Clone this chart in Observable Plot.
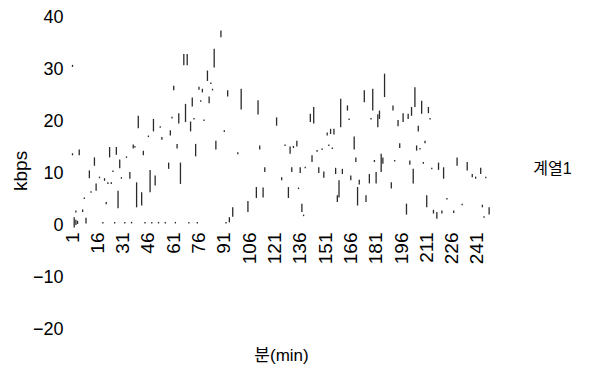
<!DOCTYPE html>
<html>
<head>
<meta charset="utf-8">
<script src="https://cdn.jsdelivr.net/npm/d3@7"></script>
<script src="https://cdn.jsdelivr.net/npm/@observablehq/plot@0.6"></script>
<style>
  html, body { margin: 0; padding: 0; background: #fff; }
  #chart { width: 590px; height: 374px; }
</style>
</head>
<body>
<div id="chart"></div>
<script>
// Minute index of each visible segment of 계열1
const minutes = [1,1,2,3,3,4,5,7,8,9,11,12,14,15,17,19,20,21,22,23,24,25,26,27,28,29,30,32,33,35,36,37,38,39,40,42,43,44,46,47,48,49,50,52,53,54,56,58,59,60,61,62,63,64,65,67,68,69,70,71,72,73,74,75,76,77,78,79,81,82,83,84,85,86,89,91,92,93,94,96,99,101,105,110,111,112,114,115,122,125,127,129,130,131,132,134,135,136,137,138,139,142,143,144,146,147,149,150,152,153,154,155,156,157,158,159,160,161,164,165,166,168,169,170,171,174,175,177,178,179,180,181,182,183,184,185,186,190,191,192,194,195,197,199,200,201,202,203,204,205,206,207,208,209,210,211,212,213,214,215,217,218,220,221,223,227,229,232,235,238,240,243,244,245,246,248];
// Lower and upper kbps of each segment
const lows = [30.4,13.4,-0.5,2.4,0,0.2,13.4,2.5,5,0.3,9,6.2,11.4,6.6,9,0.3,8.5,4,7.9,13,7.9,10.2,0.3,13.5,3.2,10.9,8.9,0.3,12.9,8.9,0.3,14.7,14.9,3.4,18.6,3.75,13.4,0.3,16.9,6.3,0.3,18,7.6,0.3,18.7,16.4,0.3,10.8,17.2,20.5,25.9,0.3,14.7,19.5,7.9,30.7,19.8,30.7,0.3,18,22.8,20.3,13.2,0.3,26,23.7,25.5,20,27.7,23.4,27.1,25.9,30.3,14.5,36.1,17.9,0.3,24.7,0.5,1.6,13.6,22.2,2.5,5.2,21.25,14.5,5.3,10.2,19.1,8.6,15.2,5.2,13.7,10.2,14.8,15.1,6.9,10,2.5,1.7,10.9,19.8,12.1,19.5,14.1,10,14.4,9.1,17.2,15.2,17.5,14.6,17.4,9.8,4.4,5.3,18.8,9.8,22,20.2,8.6,14.5,12.1,3.75,7.8,23.6,4.4,8,20.3,22,12.1,8,18.8,20.4,10.2,11.8,24.6,7,22,12.2,19,14.8,19.8,2,20.4,11.6,21,8,22.7,14.3,18,14.5,21.4,11.8,15.7,3.4,21.5,20.3,10.7,2.2,1.2,10.6,2.2,8.9,4.9,2.3,11.4,3.8,10.5,9.2,8.9,9.8,3.4,1.4,9,2];
const highs = [30.8,13.8,1.5,2.8,1,0.8,14.5,3,5.3,1.4,10.5,6.5,13,8,9.3,0.6,9,4.4,8.2,15,8.2,10.5,0.6,15,6.6,12.6,9.2,0.6,13.2,10.2,0.6,15.5,15.2,8.2,21,6.3,14.3,0.6,17.2,10.6,0.6,20.4,9.5,0.6,19,16.9,0.6,12,18.2,20.8,26.8,0.6,15.6,21.5,12,32.9,23.3,32.9,0.6,19.9,24.5,20.6,15.6,0.6,26.6,24,26.2,20.3,29.7,24.7,27.4,26.2,33.9,16.2,37.4,18.2,0.6,25.9,1.5,3.4,14,26.2,4.6,7.3,24,15.3,7.2,11.1,20.7,9.2,15.5,7.3,15.1,11.1,15.2,16.2,7.2,11.1,4.1,2,11.2,21.4,13.4,22.7,14.4,11.1,14.7,10.3,17.8,15.5,18.5,14.9,18.5,11,5.7,8.6,24.3,10.8,23,20.5,9.5,17,13,7.3,8.7,25.9,5.7,9.8,20.6,26.2,12.5,10.2,21.3,22,13.7,13,29.1,8.2,23,12.5,20.2,15.7,21.5,4.1,21.4,12.4,22.7,10.8,26.5,15.3,19.1,14.8,23.9,12.1,16.2,5.7,22.7,20.6,11,2.9,2.5,12,2.8,11.1,5.2,2.8,13,4.1,12.1,9.8,9.3,11,3.9,1.7,9.3,3.4];

const xTicks = [1,16,31,46,61,76,91,106,121,136,151,166,181,196,211,226,241];
const yTicks = [-20,-10,0,10,20,30,40];
const xTitle = "분(min)";
const yTitle = "kbps";
const seriesName = "계열1";

const segments = minutes.map((m, i) => ({m, lo: lows[i], hi: highs[i]}));
const font = "'Liberation Sans', Arial, 'Noto Sans CJK KR', sans-serif";

const chart = Plot.plot({
  width: 590,
  height: 374,
  marginLeft: 72,
  marginRight: 98,
  marginTop: 17,
  marginBottom: 45,
  style: {fontFamily: font, background: "#fff", color: "#000"},
  x: {domain: [1, 250], axis: null},
  y: {domain: [-20, 40], axis: null},
  marks: [
    Plot.ruleX(segments, {x: "m", y1: "lo", y2: "hi", stroke: "#2a2a2a", strokeWidth: 1.3}),
    Plot.text(yTicks, {y: d => d, text: d => String(d).replace("-", "\u2212"), frameAnchor: "left", dx: -9, textAnchor: "end", fontSize: 18, fill: "#000"}),
    Plot.text(xTicks, {x: d => d, y: 0, text: d => String(d), rotate: -90, textAnchor: "end", dy: 7, fontSize: 19, fill: "#000"}),
    Plot.text([yTitle], {y: 10.5, frameAnchor: "left", dx: -52, rotate: -90, textAnchor: "middle", fontSize: 19, fill: "#000"}),
    Plot.text([xTitle], {frameAnchor: "bottom", dx: -1, dy: 31, textAnchor: "middle", fontSize: 17, fill: "#000"}),
    Plot.text([seriesName], {y: 10.8, frameAnchor: "right", dx: 60, textAnchor: "middle", fontSize: 16, fill: "#000"})
  ]
});
document.getElementById("chart").appendChild(chart);
</script>
</body>
</html>
